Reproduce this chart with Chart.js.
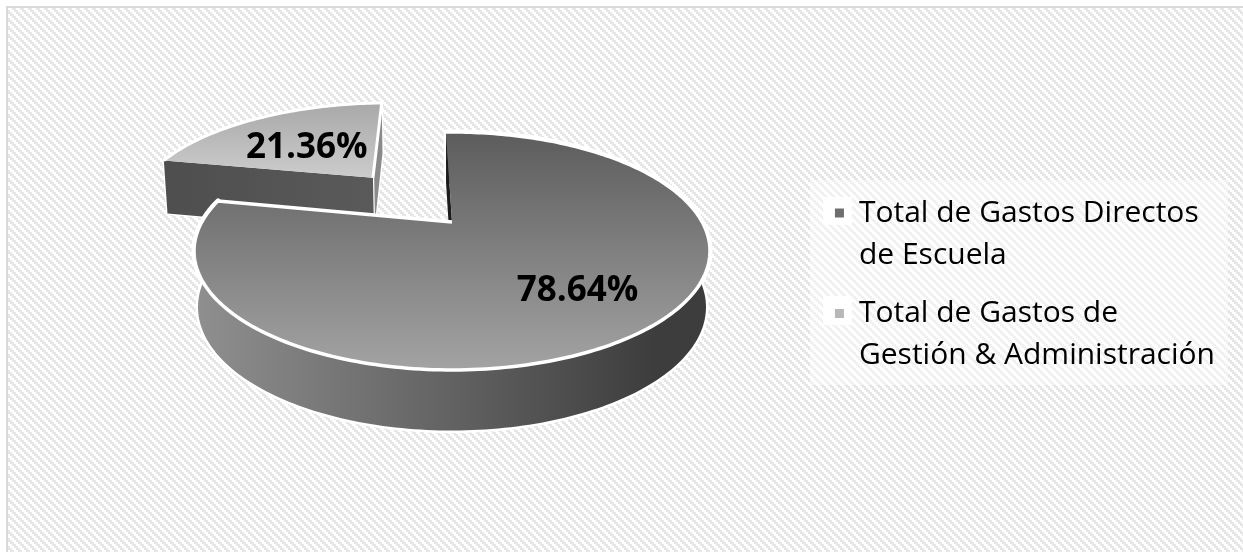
<!DOCTYPE html>
<html><head><meta charset="utf-8">
<style>html,body{margin:0;padding:0;background:#fff}canvas{display:block}</style>
<script src="https://cdn.jsdelivr.net/npm/chart.js@4/dist/chart.umd.min.js"></script>
</head><body><canvas id="c" width="1243" height="552"></canvas>
<script>
const categories = [["Total de Gastos Directos","de Escuela"],["Total de Gastos de","Gestión & Administración"]];
const shareValues = [78.64, 21.36];
const shareLabels = ["78.64%", "21.36%"];
const legendColors = ["#6e6e6e", "#b8b8b8"];

// view of the tilted disc
const VIEW = {cx:452, cy:222, A:250.2, B:111.9, k:0.2437, m:0.0148, depthA:31, depthB:24.5};

function topPt(u,v){const w=1-VIEW.k*v;return [VIEW.cx+VIEW.A*u/w, VIEW.cy+VIEW.B*v/w];}
function botPt(u,v){const w=1-VIEW.k*v, w2=w+VIEW.m;
  return [VIEW.cx+VIEW.A*u/w2, VIEW.cy+VIEW.B*v/w2+VIEW.depthA+VIEW.depthB/w];}
function sliceGeom(el){
  const o=(el.options.offset||0)/4/el.outerRadius, mid=(el.startAngle+el.endAngle)/2;
  const nudgeU=o>0?-0.04:0, nudgeV=o>0?-0.07:0;
  return {ox:Math.cos(mid)*o+nudgeU, oy:Math.sin(mid)*o+nudgeV, a0:el.startAngle, a1:el.endAngle, mid};
}
function arcPts(g,proj,a0,a1){const n=Math.max(2,Math.ceil(Math.abs(a1-a0)/0.02)),p=[];
  for(let i=0;i<=n;i++){const a=a0+(a1-a0)*i/n;p.push(proj(g.ox+Math.cos(a),g.oy+Math.sin(a)));}
  return p;}
function poly(ctx,pts,close){ctx.beginPath();pts.forEach((p,i)=>i?ctx.lineTo(p[0],p[1]):ctx.moveTo(p[0],p[1]));if(close)ctx.closePath();}
function linear(ctx,x0,y0,x1,y1,stops){const g=ctx.createLinearGradient(x0,y0,x1,y1);stops.forEach(s=>g.addColorStop(s[0],s[1]));return g;}

const hatchPlugin={id:'hatch',beforeDraw(chart){
  const ctx=chart.ctx,t=document.createElement('canvas');t.width=t.height=8;
  const c=t.getContext('2d');
  for(let y=0;y<8;y++)for(let x=0;x<8;x++){
    const d=(Math.floor(x/2)-Math.floor(y/2)+4)%4;
    c.fillStyle=d<2?'#ffffff':'#e6e6e6';c.fillRect(x,y,1,1);}
  ctx.save();
  ctx.fillStyle='#fff';ctx.fillRect(0,0,chart.width,chart.height);
  ctx.fillStyle=ctx.createPattern(t,'repeat');ctx.fillRect(7,7,chart.width-7,chart.height-7);
  ctx.fillStyle='#d9d9d9';ctx.fillRect(6,6,chart.width-6,2);ctx.fillRect(6,6,2,chart.height-6);
  ctx.fillStyle='rgba(255,255,255,0.45)';ctx.fillRect(810,180,418,205);
  ctx.fillStyle='rgba(255,255,255,0.9)';ctx.fillRect(823,197,29,28);ctx.fillRect(823,296,29,29);
  ctx.restore();
}};

const piePlugin={id:'pie3d',beforeDatasetsDraw(chart){
  const ctx=chart.ctx,arcs=chart.getDatasetMeta(0).data;
  const main=sliceGeom(arcs[0]),small=sliceGeom(arcs[1]);
  ctx.save();ctx.lineJoin='round';
  // detached slice
  {
    const g=small,apexT=topPt(g.ox,g.oy),apexB=botPt(g.ox,g.oy);
    const tArc=arcPts(g,topPt,g.a0,g.a1),bArc=arcPts(g,botPt,g.a0,g.a1);
    const s0T=tArc[0],s0B=bArc[0],s1T=tArc[tArc.length-1],s1B=bArc[bArc.length-1];
    poly(ctx,[s1T,apexT,apexB,s1B],true);
    ctx.strokeStyle='#fff';ctx.lineWidth=2.5;ctx.stroke();ctx.fillStyle='#8a8a8a';ctx.fill();
    poly(ctx,[s0T,apexT,apexB,s0B],true);
    ctx.fillStyle=linear(ctx,s0T[0],0,apexT[0],0,[[0,'#4e4e4e'],[1,'#5a5a5a']]);
    ctx.stroke();ctx.fill();
    poly(ctx,[apexT].concat(tArc),true);
    ctx.fillStyle=linear(ctx,0,104,0,186,[[0,'#a9a9a9'],[1,'#d0d0d0']]);ctx.fill();
    poly(ctx,tArc.concat([apexT]),false);
    ctx.strokeStyle='#fff';ctx.lineWidth=3;ctx.stroke();
  }
  // main slice
  {
    const g=main,apexT=topPt(0,0),apexB=botPt(0,0);
    const tArc=arcPts(g,topPt,g.a0,g.a1),bArc=arcPts(g,botPt,g.a0,g.a1);
    const wall=tArc.concat(bArc.slice().reverse());
    poly(ctx,wall,true);
    ctx.strokeStyle='#fff';ctx.lineWidth=5;ctx.stroke();
    ctx.fillStyle=linear(ctx,197,0,706,0,[[0,'#8f8f8f'],[0.5,'#626262'],[0.9,'#3d3d3d'],[1,'#3d3d3d']]);ctx.fill();
    poly(ctx,[tArc[0],apexT,apexB,bArc[0]],true);ctx.fillStyle='#1c1c1c';ctx.fill();
    poly(ctx,[apexT].concat(tArc),true);
    ctx.fillStyle=linear(ctx,0,132,0,370,[[0,'#5c5c5c'],[1,'#a3a3a3']]);ctx.fill();
    poly(ctx,tArc.concat([apexT]),false);
    ctx.strokeStyle='#fff';ctx.lineWidth=3.5;ctx.stroke();
  }
  // value labels
  ctx.fillStyle='#000';ctx.font='bold 35px "Open Sans"';ctx.textAlign='center';ctx.textBaseline='middle';
  [[main,0.68,0],[small,0.5,-5]].forEach((e,i)=>{
    const g=e[0],r=e[1],p=topPt(g.ox+Math.cos(g.mid)*r,g.oy+Math.sin(g.mid)*r);
    ctx.fillText(shareLabels[i],p[0]+e[2],p[1]+2.5);
  });
  ctx.restore();
  return false;
}};

new Chart(document.getElementById('c'),{
  type:'pie',
  data:{labels:categories,datasets:[{data:shareValues,backgroundColor:legendColors,borderWidth:0,offset:[0,181.5]}]},
  options:{
    responsive:false,animation:false,rotation:-1.7,
    layout:{padding:{top:181.5,right:18}},
    plugins:{
      tooltip:{enabled:false},
      legend:{position:'right',align:'start',
        labels:{boxWidth:9,boxHeight:9,padding:16.5,color:'#595959',textAlign:'left',
          font:{family:'"Open Sans"',size:30,lineHeight:1.4},
          generateLabels(chart){return categories.map((t,i)=>({text:t,fillStyle:legendColors[i],strokeStyle:legendColors[i],lineWidth:0,index:i,hidden:false}));}}}
    }
  },
  plugins:[hatchPlugin,piePlugin]
});
</script></body></html>
